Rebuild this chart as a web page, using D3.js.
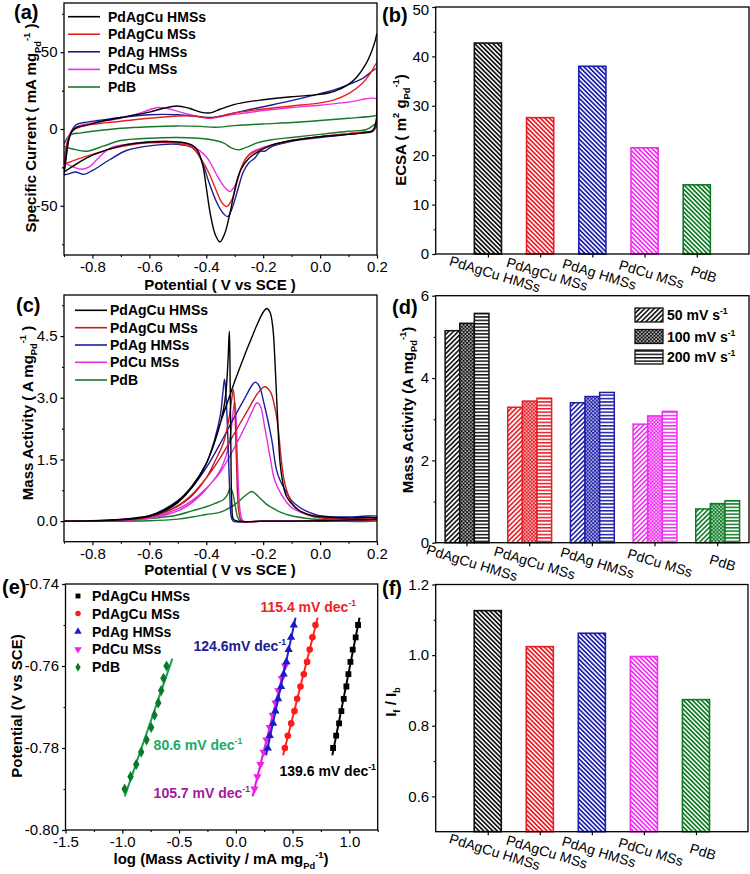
<!DOCTYPE html>
<html><head><meta charset="utf-8">
<script src="https://cdn.jsdelivr.net/npm/d3@7"></script>
<style>body{margin:0;background:#fff}svg{display:block;background:#fff}</style>
</head><body><svg id="c" width="750" height="874"></svg>
<script>
// ---------------- DATA ----------------
const samples = ["PdAgCu HMSs", "PdAgCu MSs", "PdAg HMSs", "PdCu MSs", "PdB"];
const rates = ["50 mV s", "100 mV s", "200 mV s"];

// (a) CV curves in N2 : [potential V, specific current mA/mg]
const cvA_PdAgCuHMSs = [[-0.9,-28],[-0.893,-18],[-0.885,-8],[-0.872,-1.5],[-0.855,1],[-0.82,2.5],[-0.78,4.5],[-0.7,7.5],[-0.6,11],[-0.55,13.5],[-0.504,15],[-0.46,13.5],[-0.42,11],[-0.385,10.5],[-0.35,13],[-0.3,16],[-0.25,17.8],[-0.2,19],[-0.1,21],[0,22.5],[0.05,24.5],[0.1,29],[0.13,34],[0.16,42],[0.18,50],[0.193,57],[0.2,62],
  [0.2,35],[0.197,5],[0.185,-1],[0.15,-2.5],[0.1,-3.5],[0,-5],[-0.1,-7.5],[-0.17,-10.5],[-0.21,-14],[-0.25,-19],[-0.28,-27],[-0.3,-40],[-0.317,-55],[-0.335,-68],[-0.352,-73.5],[-0.368,-69],[-0.385,-56],[-0.4,-38],[-0.412,-24],[-0.43,-14],[-0.45,-10.5],[-0.5,-8.5],[-0.6,-8.5],[-0.7,-11],[-0.8,-17],[-0.85,-22],[-0.9,-28]];
const cvA_PdAgCuMSs = [[-0.9,-23],[-0.893,-13],[-0.882,-5],[-0.865,-0.5],[-0.84,1.5],[-0.8,3],[-0.7,5],[-0.6,7],[-0.5,8.5],[-0.44,8.5],[-0.39,7],[-0.35,8.5],[-0.3,10.5],[-0.2,13],[-0.1,15],[0,17],[0.05,19],[0.1,23],[0.15,30],[0.18,37],[0.2,43],
  [0.2,20],[0.196,3],[0.185,-1],[0.15,-2],[0.1,-3],[0,-5],[-0.1,-7.5],[-0.2,-12.5],[-0.25,-17],[-0.27,-22],[-0.29,-33],[-0.31,-46],[-0.328,-50.5],[-0.345,-48],[-0.365,-40],[-0.39,-29],[-0.42,-19],[-0.45,-12],[-0.5,-9.5],[-0.6,-9],[-0.7,-11.5],[-0.8,-16.5],[-0.85,-19.5],[-0.9,-23]];
const cvA_PdAgHMSs = [[-0.9,-30],[-0.893,-20],[-0.883,-7],[-0.87,0],[-0.855,3],[-0.82,4.5],[-0.78,5.5],[-0.7,7.5],[-0.6,9.3],[-0.5,9.3],[-0.42,8],[-0.38,7.5],[-0.3,10.5],[-0.2,14.5],[-0.1,18.5],[0,23],[0.05,25.5],[0.1,29],[0.15,33],[0.2,39],
  [0.2,20],[0.196,2],[0.185,-1.5],[0.15,-2.5],[0.1,-3.5],[0,-5.5],[-0.1,-8],[-0.17,-11.5],[-0.195,-14.5],[-0.21,-14.5],[-0.23,-19],[-0.25,-22],[-0.27,-28],[-0.29,-40],[-0.31,-52],[-0.325,-57],[-0.34,-55],[-0.36,-49],[-0.39,-35],[-0.42,-19],[-0.45,-12],[-0.5,-10],[-0.6,-11],[-0.68,-14],[-0.74,-20],[-0.8,-27],[-0.83,-29.5],[-0.86,-28],[-0.88,-29],[-0.9,-30]];
const cvA_PdCuMSs = [[-0.9,-22],[-0.893,-12],[-0.882,-4],[-0.865,0.5],[-0.84,2.5],[-0.8,4],[-0.7,7],[-0.64,10],[-0.6,12.5],[-0.57,14],[-0.54,13.5],[-0.5,11.5],[-0.45,9],[-0.39,7],[-0.35,8],[-0.3,9.5],[-0.2,12],[-0.1,14],[0,15.5],[0.1,17.5],[0.2,19.5],
  [0.2,10],[0.196,0.5],[0.18,-1.5],[0.1,-3],[0,-5],[-0.1,-7.5],[-0.2,-12],[-0.24,-15],[-0.26,-19],[-0.28,-27],[-0.3,-37],[-0.317,-40.7],[-0.335,-38],[-0.36,-31],[-0.38,-24],[-0.4,-18],[-0.45,-11],[-0.5,-8.5],[-0.6,-8.2],[-0.68,-10],[-0.74,-12.6],[-0.785,-20],[-0.81,-24.5],[-0.837,-26.2],[-0.87,-24.5],[-0.9,-22]];
const cvA_PdB = [[-0.9,-10],[-0.88,-4],[-0.84,-2.5],[-0.8,-1.5],[-0.7,0.5],[-0.6,1.5],[-0.5,2],[-0.42,1.7],[-0.37,1.1],[-0.3,2.2],[-0.2,3.3],[-0.1,4.2],[0,5.5],[0.1,7],[0.19,8.5],[0.2,9],
  [0.2,5],[0.185,2],[0.16,-0.5],[0.1,-1.5],[0,-3.5],[-0.1,-5.5],[-0.17,-7],[-0.22,-9],[-0.26,-12],[-0.287,-13.6],[-0.31,-12.5],[-0.34,-9],[-0.4,-6.5],[-0.5,-5.5],[-0.6,-6],[-0.7,-7.5],[-0.76,-11],[-0.82,-14.5],[-0.87,-13],[-0.9,-11.5]];

// (c) CV curves in ethanol : [potential V, mass activity A/mg]
const cvC_PdAgCuHMSs = [[-0.9,0],[-0.8,0.01],[-0.7,0.04],[-0.6,0.13],[-0.55,0.26],[-0.5,0.48],[-0.45,0.85],[-0.4,1.4],[-0.37,1.95],[-0.35,2.4],[-0.32,3.0],[-0.3,3.4],[-0.27,3.95],[-0.25,4.3],[-0.22,4.8],[-0.2,5.08],[-0.188,5.17],[-0.176,5.08],[-0.166,4.7],[-0.158,3.8],[-0.15,2.6],[-0.141,1.45],[-0.13,0.9],[-0.118,0.6],[-0.09,0.35],[-0.066,0.23],[-0.03,0.14],[0.02,0.1],[0.1,0.08],[0.2,0.08],
  [0.2,0.06],[0.1,0.03],[0,0.01],[-0.1,0],[-0.2,0],[-0.29,0],[-0.305,0.05],[-0.31,0.4],[-0.314,2.0],[-0.317,4.0],[-0.319,4.62],[-0.323,4.0],[-0.33,3.2],[-0.34,2.7],[-0.36,2.15],[-0.4,1.4],[-0.45,0.82],[-0.5,0.45],[-0.55,0.24],[-0.6,0.12],[-0.7,0.03],[-0.9,0]];
const cvC_PdAgCuMSs = [[-0.9,0],[-0.7,0.03],[-0.6,0.1],[-0.5,0.38],[-0.45,0.65],[-0.4,1.05],[-0.35,1.55],[-0.3,2.15],[-0.25,2.75],[-0.22,3.1],[-0.195,3.27],[-0.175,3.15],[-0.16,2.8],[-0.148,2.3],[-0.138,1.6],[-0.128,1.05],[-0.118,0.76],[-0.1,0.45],[-0.076,0.27],[-0.04,0.14],[0,0.08],[0.1,0.05],[0.2,0.05],
  [0.2,0.03],[0,0],[-0.2,0],[-0.275,0],[-0.285,0.2],[-0.294,1.5],[-0.3,2.8],[-0.305,3.2],[-0.31,3.0],[-0.32,2.5],[-0.34,1.9],[-0.37,1.45],[-0.4,1.05],[-0.45,0.62],[-0.5,0.36],[-0.6,0.1],[-0.7,0.03],[-0.9,0]];
const cvC_PdAgHMSs = [[-0.9,0],[-0.7,0.04],[-0.6,0.13],[-0.5,0.48],[-0.45,0.82],[-0.4,1.3],[-0.35,1.9],[-0.3,2.55],[-0.26,3.05],[-0.24,3.3],[-0.228,3.38],[-0.215,3.3],[-0.195,2.8],[-0.17,1.98],[-0.153,1.24],[-0.138,0.95],[-0.123,0.76],[-0.1,0.5],[-0.075,0.35],[-0.05,0.25],[0,0.13],[0.1,0.1],[0.15,0.12],[0.2,0.12],
  [0.2,0.1],[0.1,0.02],[0,0],[-0.2,0],[-0.305,0],[-0.312,0.1],[-0.318,0.8],[-0.325,2.2],[-0.332,3.2],[-0.336,3.45],[-0.342,3.1],[-0.35,2.6],[-0.37,2.0],[-0.4,1.4],[-0.45,0.85],[-0.5,0.5],[-0.6,0.13],[-0.7,0.04],[-0.9,0]];
const cvC_PdCuMSs = [[-0.9,0],[-0.7,0.02],[-0.6,0.08],[-0.5,0.3],[-0.45,0.5],[-0.4,0.8],[-0.35,1.2],[-0.3,1.8],[-0.26,2.35],[-0.24,2.65],[-0.222,2.88],[-0.21,2.8],[-0.195,2.3],[-0.176,1.57],[-0.16,1.0],[-0.14,0.7],[-0.123,0.51],[-0.1,0.33],[-0.07,0.22],[-0.03,0.13],[0.05,0.07],[0.2,0.05],
  [0.2,0.03],[0,0],[-0.2,0],[-0.27,0],[-0.28,0.2],[-0.29,1.4],[-0.295,2.5],[-0.3,2.92],[-0.305,2.7],[-0.315,2.1],[-0.33,1.6],[-0.35,1.25],[-0.4,0.78],[-0.45,0.45],[-0.5,0.25],[-0.6,0.07],[-0.7,0.02],[-0.9,0]];
const cvC_PdB = [[-0.9,0],[-0.6,0.01],[-0.5,0.05],[-0.45,0.1],[-0.4,0.16],[-0.35,0.22],[-0.3,0.4],[-0.27,0.58],[-0.25,0.69],[-0.24,0.72],[-0.23,0.68],[-0.21,0.55],[-0.19,0.42],[-0.17,0.33],[-0.14,0.22],[-0.1,0.13],[-0.05,0.07],[0,0.04],[0.1,0.02],[0.2,0.02],
  [0.2,0.01],[0,0],[-0.2,0],[-0.28,0],[-0.29,0.1],[-0.3,0.45],[-0.31,0.75],[-0.317,0.8],[-0.325,0.65],[-0.34,0.52],[-0.37,0.43],[-0.4,0.35],[-0.45,0.25],[-0.5,0.15],[-0.6,0.06],[-0.7,0.02],[-0.9,0]];

// (b) ECSA m2/g
const ecsa = [42.7, 27.6, 38.0, 21.5, 14.0];
// (d) mass activity at different scan rates, A/mg
const ma50 = [5.15, 3.29, 3.40, 2.88, 0.82];
const ma100 = [5.33, 3.44, 3.55, 3.08, 0.95];
const ma200 = [5.57, 3.51, 3.65, 3.19, 1.02];
// (f) If/Ib
const ifib = [1.126, 1.024, 1.062, 0.996, 0.874];

// (e) Tafel data
const tafelY_upper = [-0.780,-0.777,-0.774,-0.771,-0.768,-0.765,-0.762,-0.759,-0.756,-0.753,-0.750];
const tafelY_lower = [-0.790,-0.787,-0.784,-0.781,-0.778,-0.775,-0.772,-0.769,-0.766,-0.763,-0.760];
const tafelX_PdAgCuHMSs = [0.857,0.884,0.910,0.930,0.951,0.974,0.992,1.010,1.030,1.056,1.077];
const tafelX_PdAgCuMSs = [0.432,0.458,0.488,0.517,0.540,0.570,0.599,0.628,0.651,0.675,0.702];
const tafelX_PdAgHMSs = [0.282,0.299,0.329,0.349,0.373,0.399,0.422,0.446,0.466,0.487,0.511];
const tafelX_PdCuMSs = [0.165,0.190,0.217,0.245,0.270,0.300,0.325,0.350,0.375,0.405,0.435];
const tafelX_PdB = [-0.979,-0.927,-0.877,-0.833,-0.786,-0.745,-0.716,-0.683,-0.657,-0.637,-0.610];
const tafelSlopes = ["139.6 mV dec", "115.4 mV dec", "124.6mV dec", "105.7 mV dec", "80.6 mV dec"];

// tick values
const ticksCVx = [-0.8,-0.6,-0.4,-0.2,0.0,0.2];
const ticksAy = [-50,0,50];
const ticksCy = [0,1.5,3.0,4.5];
const ticksBy = [0,10,20,30,40,50];
const ticksDy = [0,2,4,6];
const ticksEx = [-1.5,-1.0,-0.5,0.0,0.5,1.0];
const ticksEy = [-0.80,-0.78,-0.76,-0.74];
const ticksFy = [0.6,0.8,1.0,1.2];

// ---------------- STYLE ----------------
const FONT = 'Arial, "Liberation Sans", sans-serif';
const cvColorsA = ["#000000", "#e8221c", "#1c1c8e", "#ee2ee6", "#17782a"];
const cvColorsC = ["#000000", "#c41e22", "#1c1ca0", "#e22ee0", "#17782a"];
const barColors = ["#111111", "#e61e26", "#1e1ea8", "#f02ef0", "#0f7a24"];
const tafelColors = ["#000000", "#ff1a1a", "#1a1acc", "#f020f0", "#0a7a2a"];
const tafelLineColors = ["#000000", "#ff2020", "#2020cc", "#d020d8", "#18a058"];
const tafelTextColors = ["#000000", "#ee2222", "#202090", "#a01aa0", "#1aaa6a"];

const svg = d3.select("#c").attr("font-family", FONT);
const defs = svg.append("defs");
const fmtMinus = f => d => f(d).replace("\u2212", "-");

function rich(sel, parts, fs) {
  let cur = 0;
  parts.forEach(p => {
    const [t, kind] = Array.isArray(p) ? p : [p, null];
    const target = kind === "sub" ? fs * 0.3 : kind === "sup" ? -fs * 0.42 : 0;
    const ts = sel.append("tspan").attr("font-size", kind ? fs * 0.62 : fs).text(t);
    if (target - cur !== 0) ts.attr("dy", (target - cur).toFixed(2));
    cur = target;
  });
  return sel;
}

function frame(b) {
  svg.append("rect").attr("x", b.x0).attr("y", b.y0).attr("width", b.x1 - b.x0).attr("height", b.y1 - b.y0)
    .attr("fill", "none").attr("stroke", "#000").attr("stroke-width", 1.3);
}
function axis(kind, scale, major, minor, fmt, tx, ty) {
  const mk = kind === "left" ? d3.axisLeft : d3.axisBottom;
  const g = svg.append("g").attr("transform", `translate(${tx},${ty})`)
    .call(mk(scale).tickValues(major).tickSize(3.5).tickPadding(3).tickFormat(fmt));
  g.select(".domain").remove();
  g.attr("font-size", 15).attr("font-family", FONT);
  g.selectAll("line").attr("stroke", "#000").attr("stroke-width", 1.2);
  if (minor) {
    const gm = svg.append("g").attr("transform", `translate(${tx},${ty})`)
      .call(mk(scale).tickValues(minor).tickSize(2).tickFormat(""));
    gm.select(".domain").remove();
    gm.selectAll("line").attr("stroke", "#000").attr("stroke-width", 1.1);
  }
  return g;
}
function yTitle(x, y, parts) {
  rich(svg.append("text").attr("transform", `translate(${x},${y}) rotate(-90)`).attr("text-anchor", "middle")
    .attr("font-weight", "bold"), parts, 15);
}
function xTitle(x, y, parts) {
  rich(svg.append("text").attr("x", x).attr("y", y).attr("text-anchor", "middle").attr("font-weight", "bold"), parts, 15);
}
function panelLabel(x, y, t) {
  svg.append("text").attr("x", x).attr("y", y).attr("font-size", 20).attr("font-weight", "bold").text(t);
}
function clip(id, b) {
  defs.append("clipPath").attr("id", id).append("rect").attr("x", b.x0).attr("y", b.y0)
    .attr("width", b.x1 - b.x0).attr("height", b.y1 - b.y0);
}

// patterns
function stripe(id, color, angle, size, w) {
  const p = defs.append("pattern").attr("id", id).attr("patternUnits", "userSpaceOnUse")
    .attr("width", size).attr("height", size).attr("patternTransform", `rotate(${angle})`);
  p.append("rect").attr("width", size).attr("height", size).attr("fill", "#fff");
  p.append("rect").attr("width", w).attr("height", size).attr("fill", color);
}
function hlines(id, color) {
  const p = defs.append("pattern").attr("id", id).attr("patternUnits", "userSpaceOnUse").attr("width", 4).attr("height", 3.4);
  p.append("rect").attr("width", 4).attr("height", 3.4).attr("fill", "#fff");
  p.append("rect").attr("width", 4).attr("height", 1.5).attr("fill", color);
}
function dots(id, color) {
  const p = defs.append("pattern").attr("id", id).attr("patternUnits", "userSpaceOnUse").attr("width", 3.6).attr("height", 3.6);
  p.append("rect").attr("width", 3.6).attr("height", 3.6).attr("fill", color);
  p.append("rect").attr("x", 0.3).attr("y", 0.3).attr("width", 1.4).attr("height", 1.4).attr("fill", "#fff");
  p.append("rect").attr("x", 2.1).attr("y", 2.1).attr("width", 1.4).attr("height", 1.4).attr("fill", "#fff");
}
barColors.forEach((c, i) => {
  stripe("bs" + i, c, -45, 3.2, 1.7);
  stripe("fs" + i, c, 45, 3.4, 1.6);
  dots("dt" + i, c);
  hlines("hl" + i, c);
});

// ---------------- PANEL (a) ----------------
const PA = {x0: 64, x1: 377, y0: 3, y1: 255};
const xA = d3.scaleLinear([-0.9, 0.2], [PA.x0, PA.x1]);
const yA = d3.scaleLinear([-82, 82], [PA.y1, PA.y0]);
clip("clipA", PA);
const cvA = [cvA_PdAgCuHMSs, cvA_PdAgCuMSs, cvA_PdAgHMSs, cvA_PdCuMSs, cvA_PdB];
const lineA = d3.line().x(d => xA(d[0])).y(d => yA(d[1])).curve(d3.curveCatmullRom.alpha(0.5));
const gA = svg.append("g").attr("clip-path", "url(#clipA)");
[4, 3, 2, 1, 0].forEach(i => gA.append("path").attr("d", lineA(cvA[i])).attr("fill", "none")
  .attr("stroke", cvColorsA[i]).attr("stroke-width", 1.4));
frame(PA);
axis("bottom", xA, ticksCVx, [-0.9,-0.7,-0.5,-0.3,-0.1,0.1], fmtMinus(d3.format(".1f")), 0, PA.y1);
axis("left", yA, ticksAy, [-75,-25,25,75], d => String(d), PA.x0, 0);
const legA = [16.7, 34.2, 51.8, 69.4, 87];
samples.forEach((s, i) => {
  svg.append("line").attr("x1", 68).attr("x2", 100).attr("y1", legA[i]).attr("y2", legA[i])
    .attr("stroke", cvColorsA[i]).attr("stroke-width", 1.6);
  svg.append("text").attr("x", 108).attr("y", legA[i] + 5).attr("font-size", 14).attr("font-weight", "bold").text(s);
});
yTitle(36, 128, ["Specific Current ( mA mg", ["Pd", "sub"], ["-1", "sup"], " )"]);
xTitle(220, 290, ["Potential ( V vs SCE )"]);
panelLabel(14, 19, "(a)");

// ---------------- PANEL (b) ----------------
const PB = {x0: 435.7, x1: 749, y0: 7, y1: 254};
const xB = d3.scaleLinear([0, 6], [PB.x0, PB.x1]);
const yB = d3.scaleLinear([0, 50], [PB.y1, PB.y0]);
const barW = xB(0.52) - xB(0);
svg.append("g").selectAll("rect").data(ecsa).join("rect")
  .attr("x", (d, i) => xB(i + 1) - barW / 2).attr("width", barW)
  .attr("y", d => yB(d)).attr("height", d => yB(0) - yB(d))
  .attr("fill", (d, i) => `url(#bs${i})`).attr("stroke", (d, i) => barColors[i]).attr("stroke-width", 1.6);
frame(PB);
const axB = axis("left", yB, ticksBy, [5,15,25,35,45], d => String(d), PB.x0, 0);
axB.selectAll(".tick text").filter(d => d === 50).attr("dy", "0.5em");
axis("bottom", xB, [1,2,3,4,5], null, () => "", 0, PB.y1);
function catLabels(xs, y0) {
  samples.forEach((s, i) => {
    svg.append("text").attr("transform", `translate(${xs[i] + 7},${y0 + 20}) rotate(17)`)
      .attr("text-anchor", "middle").attr("dominant-baseline", "central").attr("font-size", 14).text(s);
  });
}
catLabels(samples.map((s, i) => xB(i + 1)), PB.y1);
yTitle(405.5, 130, ["ECSA ( m", ["2", "sup"], " g", ["Pd", "sub"], ["-1", "sup"], ")"]);
panelLabel(382, 22, "(b)");

// ---------------- PANEL (c) ----------------
const PC = {x0: 64, x1: 377, y0: 295, y1: 541.7};
const xC = d3.scaleLinear([-0.9, 0.2], [PC.x0, PC.x1]);
const yC = d3.scaleLinear([-0.5, 5.5], [PC.y1, PC.y0]);
clip("clipC", PC);
const cvC = [cvC_PdAgCuHMSs, cvC_PdAgCuMSs, cvC_PdAgHMSs, cvC_PdCuMSs, cvC_PdB];
const lineC = d3.line().x(d => xC(d[0])).y(d => yC(d[1])).curve(d3.curveCatmullRom.alpha(0.5));
const gC = svg.append("g").attr("clip-path", "url(#clipC)");
[4, 3, 2, 1, 0].forEach(i => gC.append("path").attr("d", lineC(cvC[i])).attr("fill", "none")
  .attr("stroke", cvColorsC[i]).attr("stroke-width", 1.4));
frame(PC);
axis("bottom", xC, ticksCVx, [-0.9,-0.7,-0.5,-0.3,-0.1,0.1], fmtMinus(d3.format(".1f")), 0, PC.y1);
axis("left", yC, ticksCy, [0.75,2.25,3.75,5.25], fmtMinus(d3.format(".1f")), PC.x0, 0);
const legC = [310.3, 327.7, 345, 362.3, 380];
samples.forEach((s, i) => {
  svg.append("line").attr("x1", 75).attr("x2", 107).attr("y1", legC[i]).attr("y2", legC[i])
    .attr("stroke", cvColorsC[i]).attr("stroke-width", 1.6);
  svg.append("text").attr("x", 110).attr("y", legC[i] + 5).attr("font-size", 14).attr("font-weight", "bold").text(s);
});
yTitle(32.5, 413, ["Mass Activity ( A mg", ["Pd", "sub"], ["-1", "sup"], " )"]);
xTitle(220, 575, ["Potential ( V vs SCE )"]);
panelLabel(16, 312, "(c)");

// ---------------- PANEL (d) ----------------
const PD = {x0: 435.7, x1: 749, y0: 295.7, y1: 542.7};
const xD = d3.scaleBand(samples, [PD.x0, PD.x1]).paddingInner(0.3).paddingOuter(0.15);
const xDs = d3.scaleBand(rates, [0, xD.bandwidth()]);
const yD = d3.scaleLinear([0, 6], [PD.y1, PD.y0]);
const maSets = [ma50, ma100, ma200];
const patD = ["fs", "dt", "hl"];
maSets.forEach((arr, j) => {
  svg.append("g").selectAll("rect").data(arr).join("rect")
    .attr("x", (d, i) => xD(samples[i]) + xDs(rates[j])).attr("width", xDs.bandwidth())
    .attr("y", d => yD(d)).attr("height", d => yD(0) - yD(d))
    .attr("fill", (d, i) => `url(#${patD[j]}${i})`).attr("stroke", (d, i) => barColors[i]).attr("stroke-width", 1.5);
});
frame(PD);
axis("left", yD, ticksDy, [1,3,5], d => String(d), PD.x0, 0);
svg.append("g").attr("transform", `translate(0,${PD.y1})`)
  .call(d3.axisBottom(xD).tickSize(3.5).tickFormat(() => "")).call(g => g.select(".domain").remove())
  .selectAll("line").attr("stroke", "#000").attr("stroke-width", 1.2);
catLabels(samples.map(s => xD(s) + xD.bandwidth() / 2 - 2), PD.y1);
const legD = [315, 336.5, 357];
rates.forEach((r, j) => {
  svg.append("rect").attr("x", 635).attr("y", legD[j] - 7).attr("width", 28).attr("height", 14)
    .attr("fill", `url(#${patD[j]}0)`).attr("stroke", "#111").attr("stroke-width", 1.3);
  rich(svg.append("text").attr("x", 667).attr("y", legD[j] + 5).attr("font-weight", "bold"), [r, ["-1", "sup"]], 14);
});
yTitle(412.5, 410, ["Mass Activity (A mg", ["Pd", "sub"], ["-1", "sup"], ")"]);
panelLabel(392, 314, "(d)");

// ---------------- PANEL (e) ----------------
const PE = {x0: 65.5, x1: 377.7, y0: 584, y1: 830};
const xE = d3.scaleLinear([-1.5, 1.25], [PE.x0, PE.x1]);
const yE = d3.scaleLinear([-0.80, -0.74], [PE.y1, PE.y0]);
clip("clipE", PE);
const tafelX = [tafelX_PdAgCuHMSs, tafelX_PdAgCuMSs, tafelX_PdAgHMSs, tafelX_PdCuMSs, tafelX_PdB];
const tafelY = [tafelY_upper, tafelY_upper, tafelY_upper, tafelY_lower, tafelY_lower];
const symbols = [d3.symbolSquare, d3.symbolCircle, d3.symbolTriangle, d3.symbolTriangle, d3.symbolDiamond];
const symRot = [0, 0, 0, 180, 0];
const symSize = [34, 34, 30, 30, 36];
const gE = svg.append("g").attr("clip-path", "url(#clipE)");
[4, 3, 2, 1, 0].forEach(i => {
  const pts = tafelX[i].map((x, k) => [x, tafelY[i][k]]);
  // least-squares fit of potential vs log(mass activity)
  const mx = d3.mean(pts, d => d[0]), my = d3.mean(pts, d => d[1]);
  const b = d3.sum(pts, d => (d[0] - mx) * (d[1] - my)) / d3.sum(pts, d => (d[0] - mx) ** 2);
  const a = my - b * mx;
  const xa = (d3.min(pts, d => d[1]) - 0.0018 - a) / b, xb = (d3.max(pts, d => d[1]) + 0.0018 - a) / b;
  gE.append("line").attr("x1", xE(xa)).attr("y1", yE(a + b * xa)).attr("x2", xE(xb)).attr("y2", yE(a + b * xb))
    .attr("stroke", tafelLineColors[i]).attr("stroke-width", 2);
  gE.append("g").selectAll("path").data(pts).join("path")
    .attr("transform", d => `translate(${xE(d[0])},${yE(d[1])}) rotate(${symRot[i]})`)
    .attr("d", d3.symbol(symbols[i], symSize[i])).attr("fill", tafelColors[i]);
});
frame(PE);
axis("bottom", xE, ticksEx, [-1.25,-0.75,-0.25,0.25,0.75,1.25], fmtMinus(d3.format(".1f")), 0, PE.y1);
axis("left", yE, ticksEy, [-0.79,-0.77,-0.75], fmtMinus(d3.format(".2f")), PE.x0, 0);
const slopePos = [[0.385, -0.7868], [0.217, -0.7468], [-0.372, -0.7563], [-0.724, -0.7922], [-0.724, -0.7805]];
tafelSlopes.forEach((t, i) => {
  rich(svg.append("text").attr("x", xE(slopePos[i][0])).attr("y", yE(slopePos[i][1]))
    .attr("font-weight", "bold").attr("fill", tafelTextColors[i]), [t, ["-1", "sup"]], 14);
});
const legE = [596, 613.5, 631.5, 649.3, 667.3];
samples.forEach((s, i) => {
  svg.append("path").attr("transform", `translate(78,${legE[i]}) rotate(${symRot[i]})`)
    .attr("d", d3.symbol(symbols[i], 24)).attr("fill", tafelColors[i]);
  svg.append("text").attr("x", 92).attr("y", legE[i] + 5).attr("font-size", 14).attr("font-weight", "bold").text(s);
});
yTitle(21.5, 706, ["Potential (V vs SCE)"]);
xTitle(221, 864, ["log (Mass Activity / mA mg", ["Pd", "sub"], ["-1", "sup"], ")"]);
panelLabel(2, 594, "(e)");

// ---------------- PANEL (f) ----------------
const PF = {x0: 435.7, x1: 748, y0: 584.5, y1: 831.7};
const xF = d3.scaleLinear([0, 6], [PF.x0, PF.x1]);
const yF = d3.scaleLinear([0.5, 1.2], [PF.y1, PF.y0]);
const barWF = xF(0.52) - xF(0);
svg.append("g").selectAll("rect").data(ifib).join("rect")
  .attr("x", (d, i) => xF(i + 1) - barWF / 2).attr("width", barWF)
  .attr("y", d => yF(d)).attr("height", d => yF(0.5) - yF(d))
  .attr("fill", (d, i) => `url(#bs${i})`).attr("stroke", (d, i) => barColors[i]).attr("stroke-width", 1.6);
frame(PF);
axis("left", yF, ticksFy, [0.7,0.9,1.1], fmtMinus(d3.format(".1f")), PF.x0, 0);
axis("bottom", xF, [1,2,3,4,5], null, () => "", 0, PF.y1);
catLabels(samples.map((s, i) => xF(i + 1)), PF.y1);
yTitle(395.5, 702, ["I", ["f", "sub"], " / I", ["b", "sub"]]);
panelLabel(382, 595, "(f)");
</script>
</body></html>
